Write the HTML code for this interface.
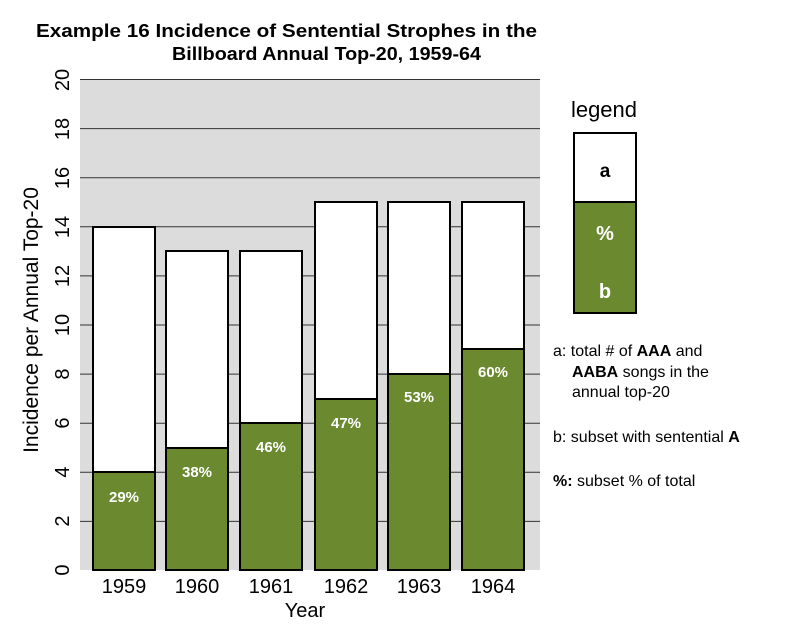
<!DOCTYPE html><html><head><style>body{margin:0;background:#fff}</style></head><body>
<svg width="800" height="631" xmlns="http://www.w3.org/2000/svg" font-family="Liberation Sans, Arial, sans-serif">
<text x="36" y="37" font-size="18" font-weight="bold" textLength="501" lengthAdjust="spacingAndGlyphs">Example 16  Incidence of Sentential Strophes in the</text>
<text x="172" y="60" font-size="18" font-weight="bold" textLength="309" lengthAdjust="spacingAndGlyphs">Billboard Annual Top-20, 1959-64</text>
<rect x="80" y="79" width="460" height="491" fill="#dcdcdc"/>
<g stroke="#333" stroke-width="1">
<line x1="80" y1="79.5" x2="540" y2="79.5"/>
<line x1="80" y1="128.6" x2="540" y2="128.6"/>
<line x1="80" y1="177.7" x2="540" y2="177.7"/>
<line x1="80" y1="226.8" x2="540" y2="226.8"/>
<line x1="80" y1="275.9" x2="540" y2="275.9"/>
<line x1="80" y1="325" x2="540" y2="325"/>
<line x1="80" y1="374.1" x2="540" y2="374.1"/>
<line x1="80" y1="423.2" x2="540" y2="423.2"/>
<line x1="80" y1="472.3" x2="540" y2="472.3"/>
<line x1="80" y1="521.4" x2="540" y2="521.4"/>
</g>
<g stroke="#000" stroke-width="2">
<rect x="93" y="227" width="62" height="343" fill="#fff"/><rect x="93" y="472" width="62" height="98" fill="#6b8a2f"/>
<rect x="166" y="251" width="62" height="319" fill="#fff"/><rect x="166" y="448" width="62" height="122" fill="#6b8a2f"/>
<rect x="240" y="251" width="62" height="319" fill="#fff"/><rect x="240" y="423" width="62" height="147" fill="#6b8a2f"/>
<rect x="315" y="202" width="62" height="368" fill="#fff"/><rect x="315" y="399" width="62" height="171" fill="#6b8a2f"/>
<rect x="388" y="202" width="62" height="368" fill="#fff"/><rect x="388" y="374" width="62" height="196" fill="#6b8a2f"/>
<rect x="462" y="202" width="62" height="368" fill="#fff"/><rect x="462" y="349" width="62" height="221" fill="#6b8a2f"/>
</g>
<g fill="#fff" font-size="15" font-weight="bold" text-anchor="middle">
<text x="124" y="502">29%</text><text x="197" y="477">38%</text><text x="271" y="452">46%</text>
<text x="346" y="428">47%</text><text x="419" y="402">53%</text><text x="493" y="377">60%</text>
</g>
<g font-size="20" text-anchor="middle">
<text x="124" y="593">1959</text><text x="197" y="593">1960</text><text x="271" y="593">1961</text>
<text x="346" y="593">1962</text><text x="419" y="593">1963</text><text x="493" y="593">1964</text>
<text x="305" y="617">Year</text>
</g>
<g font-size="20" text-anchor="middle">
<text transform="translate(69,570) rotate(-90)">0</text>
<text transform="translate(69,521) rotate(-90)">2</text>
<text transform="translate(69,472) rotate(-90)">4</text>
<text transform="translate(69,423) rotate(-90)">6</text>
<text transform="translate(69,374) rotate(-90)">8</text>
<text transform="translate(69,325) rotate(-90)">10</text>
<text transform="translate(69,276) rotate(-90)">12</text>
<text transform="translate(69,227) rotate(-90)">14</text>
<text transform="translate(69,178) rotate(-90)">16</text>
<text transform="translate(69,129) rotate(-90)">18</text>
<text transform="translate(69,80) rotate(-90)">20</text>
<text transform="translate(38,320) rotate(-90)" font-size="21">Incidence per Annual Top-20</text>
</g>
<text x="604" y="117" font-size="22" text-anchor="middle">legend</text>
<g stroke="#000" stroke-width="2">
<rect x="574" y="133" width="62" height="180" fill="#fff"/>
<rect x="574" y="202" width="62" height="111" fill="#6b8a2f"/>
</g>
<text x="605" y="177" font-size="19" font-weight="bold" text-anchor="middle">a</text>
<text x="605" y="240" font-size="20" font-weight="bold" fill="#fff" text-anchor="middle">%</text>
<text x="605" y="298" font-size="20" font-weight="bold" fill="#fff" text-anchor="middle">b</text>
<g font-size="16">
<text x="553" y="356">a: total # of <tspan font-weight="bold">AAA</tspan> and</text>
<text x="572" y="377"><tspan font-weight="bold">AABA</tspan> songs in the</text>
<text x="572" y="397">annual top-20</text>
<text x="553" y="442">b: subset with sentential <tspan font-weight="bold">A</tspan></text>
<text x="553" y="486"><tspan font-weight="bold">%:</tspan> subset % of total</text>
</g>
</svg>
</body></html>
